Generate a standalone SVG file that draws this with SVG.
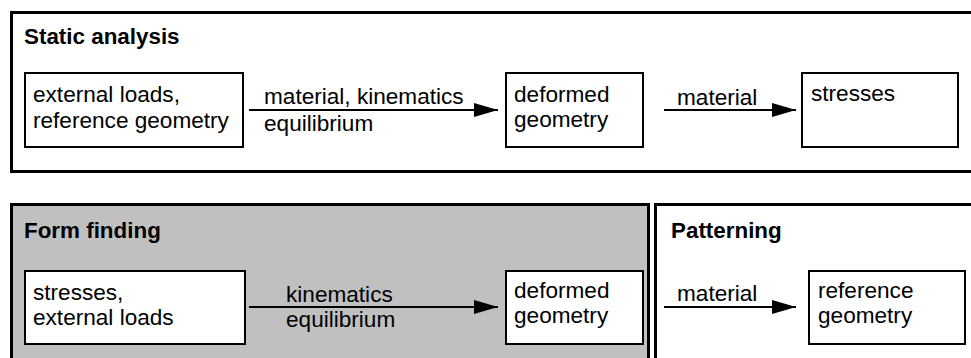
<svg xmlns="http://www.w3.org/2000/svg" width="971" height="358" viewBox="0 0 971 358">
<defs>
<style>
.panel{stroke:#000;stroke-width:3;}
.box{fill:#fff;stroke:#000;stroke-width:2;}
.t{font-family:"Liberation Sans",Arial,sans-serif;font-size:22.6px;fill:#000;}
.h{font-family:"Liberation Sans",Arial,sans-serif;font-size:22.4px;font-weight:bold;fill:#000;}
.c{stroke:#000;stroke-width:2;fill:none;}
</style>
<marker id="ah" markerUnits="userSpaceOnUse" markerWidth="24" markerHeight="14" refX="24" refY="7" orient="auto">
<path d="M0,0 L24,7 L0,14 Z" fill="#000"/>
</marker>
</defs>
<rect width="971" height="358" fill="#fff"/>
<g id="static-analysis">
<rect class="panel" x="11.5" y="12.5" width="970" height="159" fill="#fff"/>
<text class="h" x="24" y="44">Static analysis</text>
</g>
<g id="form-finding">
<rect class="panel" x="11.5" y="204.5" width="637" height="170" fill="#c0c0c0"/>
<text class="h" x="24" y="238">Form finding</text>
</g>
<g id="patterning">
<rect class="panel" x="655.5" y="204.5" width="330" height="170" fill="#fff"/>
<text class="h" x="671" y="238">Patterning</text>
</g>
<g id="n-ext-ref">
<rect class="box" x="25" y="73" width="218" height="74"/>
<text class="t" x="33" y="102">external loads,</text>
<text class="t" x="33" y="128">reference geometry</text>
</g>
<g id="n-deformed-1">
<rect class="box" x="506" y="73" width="137" height="74"/>
<text class="t" x="514" y="102">deformed</text>
<text class="t" x="514" y="127">geometry</text>
</g>
<g id="n-stresses">
<rect class="box" x="802" y="73" width="156" height="74"/>
<text class="t" x="811" y="101">stresses</text>
</g>
<g id="n-stress-ext">
<rect class="box" x="25" y="271" width="220" height="73"/>
<text class="t" x="33" y="300">stresses,</text>
<text class="t" x="33" y="325">external loads</text>
</g>
<g id="n-deformed-2">
<rect class="box" x="506" y="271" width="137" height="73"/>
<text class="t" x="514" y="298">deformed</text>
<text class="t" x="514" y="323">geometry</text>
</g>
<g id="n-reference">
<rect class="box" x="809" y="271" width="156" height="73"/>
<text class="t" x="818" y="298">reference</text>
<text class="t" x="818" y="323">geometry</text>
</g>
<g id="connectors">
<line class="c" x1="249" y1="110" x2="498" y2="110" marker-end="url(#ah)"/>
<text class="t" x="264" y="104">material, kinematics</text>
<text class="t" x="264" y="131">equilibrium</text>
<line class="c" x1="664" y1="110" x2="796" y2="110" marker-end="url(#ah)"/>
<text class="t" x="677" y="105">material</text>
<line class="c" x1="249" y1="307" x2="498" y2="307" marker-end="url(#ah)"/>
<text class="t" x="286" y="302">kinematics</text>
<text class="t" x="286" y="327">equilibrium</text>
<line class="c" x1="664" y1="307" x2="796" y2="307" marker-end="url(#ah)"/>
<text class="t" x="677" y="301">material</text>
</g>
</svg>
